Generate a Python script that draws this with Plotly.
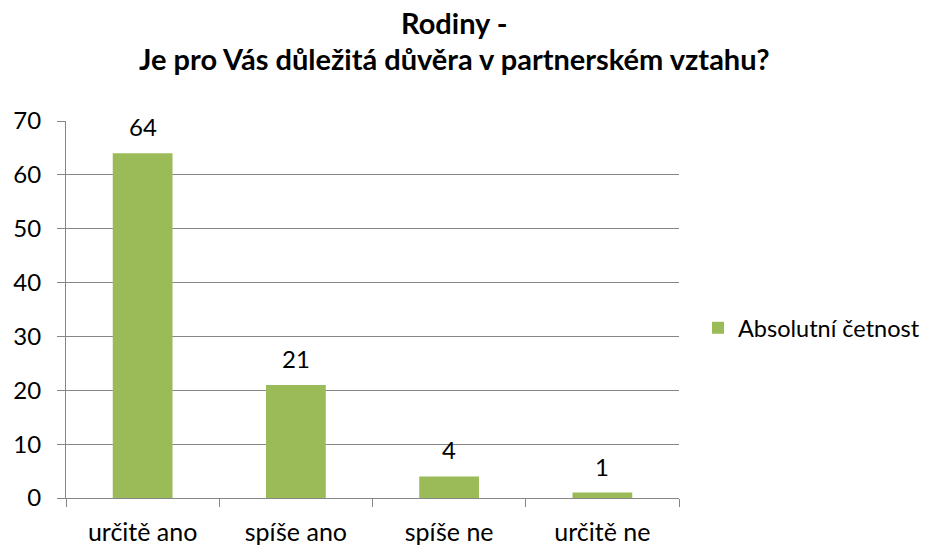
import plotly.graph_objects as go

categories = ["určitě ano", "spíše ano", "spíše ne", "určitě ne"]
values = [64, 21, 4, 1]
series_name = "Absolutní četnost"
title_lines = ["Rodiny -", "Je pro Vás důležitá důvěra v partnerském vztahu?"]

FONT = "Lato, 'Open Sans', sans-serif"
GREEN = "#9BBB59"
GRID = "#868686"

W, H = 936, 547
L, R, T, B = 66, 680, 121, 498
PW, PH = R - L, B - T

fig = go.Figure()
fig.add_trace(go.Bar(
    x=categories, y=values, name=series_name,
    marker=dict(color=GREEN, line=dict(width=0)),
    cliponaxis=False, width=0.39, showlegend=True,
))

annotations = []
for txt, ypix in zip(title_lines, [23, 59]):
    annotations.append(dict(
        text="<b>" + txt + "</b>", xref="paper", yref="paper",
        x=(455 - L) / PW, y=(B - ypix) / PH,
        xanchor="center", yanchor="middle",
        showarrow=False, font=dict(family=FONT, size=29, color="#000000"),
    ))
# data labels placed through the axes' own scales
for c, v in zip(categories, values):
    annotations.append(dict(
        text=str(v), x=c, y=v, xref="x", yref="y",
        xanchor="center", yanchor="bottom", yshift=10,
        showarrow=False, font=dict(family=FONT, size=24, color="#000000"),
    ))

fig.update_layout(
    width=W, height=H,
    margin=dict(l=L, r=W - R, t=T, b=H - B),
    paper_bgcolor="white", plot_bgcolor="white",
    font=dict(family=FONT, size=22, color="#000000"),
    annotations=annotations,
    legend=dict(
        x=(698 - L) / PW, xanchor="left", y=(B - 328) / PH, yanchor="middle",
        font=dict(family=FONT, size=23.5, color="#000000"),
        bgcolor="rgba(0,0,0,0)", itemwidth=30,
    ),
)
fig.update_xaxes(
    showline=True, linecolor=GRID, linewidth=1,
    ticks="outside", tickson="boundaries", ticklen=8, tickcolor=GRID,
    tickfont=dict(family=FONT, size=25, color="#000000"),
    showgrid=False, automargin=False, ticklabelstandoff=12,
)
fig.update_yaxes(
    range=[0, 70], dtick=10, showline=True, linecolor=GRID, linewidth=1,
    ticks="outside", ticklen=8, tickcolor=GRID,
    showgrid=True, gridcolor=GRID, gridwidth=1,
    tickfont=dict(family=FONT, size=24, color="#000000"),
    zeroline=False, automargin=False, ticklabelstandoff=11,
)

fig.write_html("out.html", config={"displayModeBar": False},
               post_script="document.body.style.margin='0';")
